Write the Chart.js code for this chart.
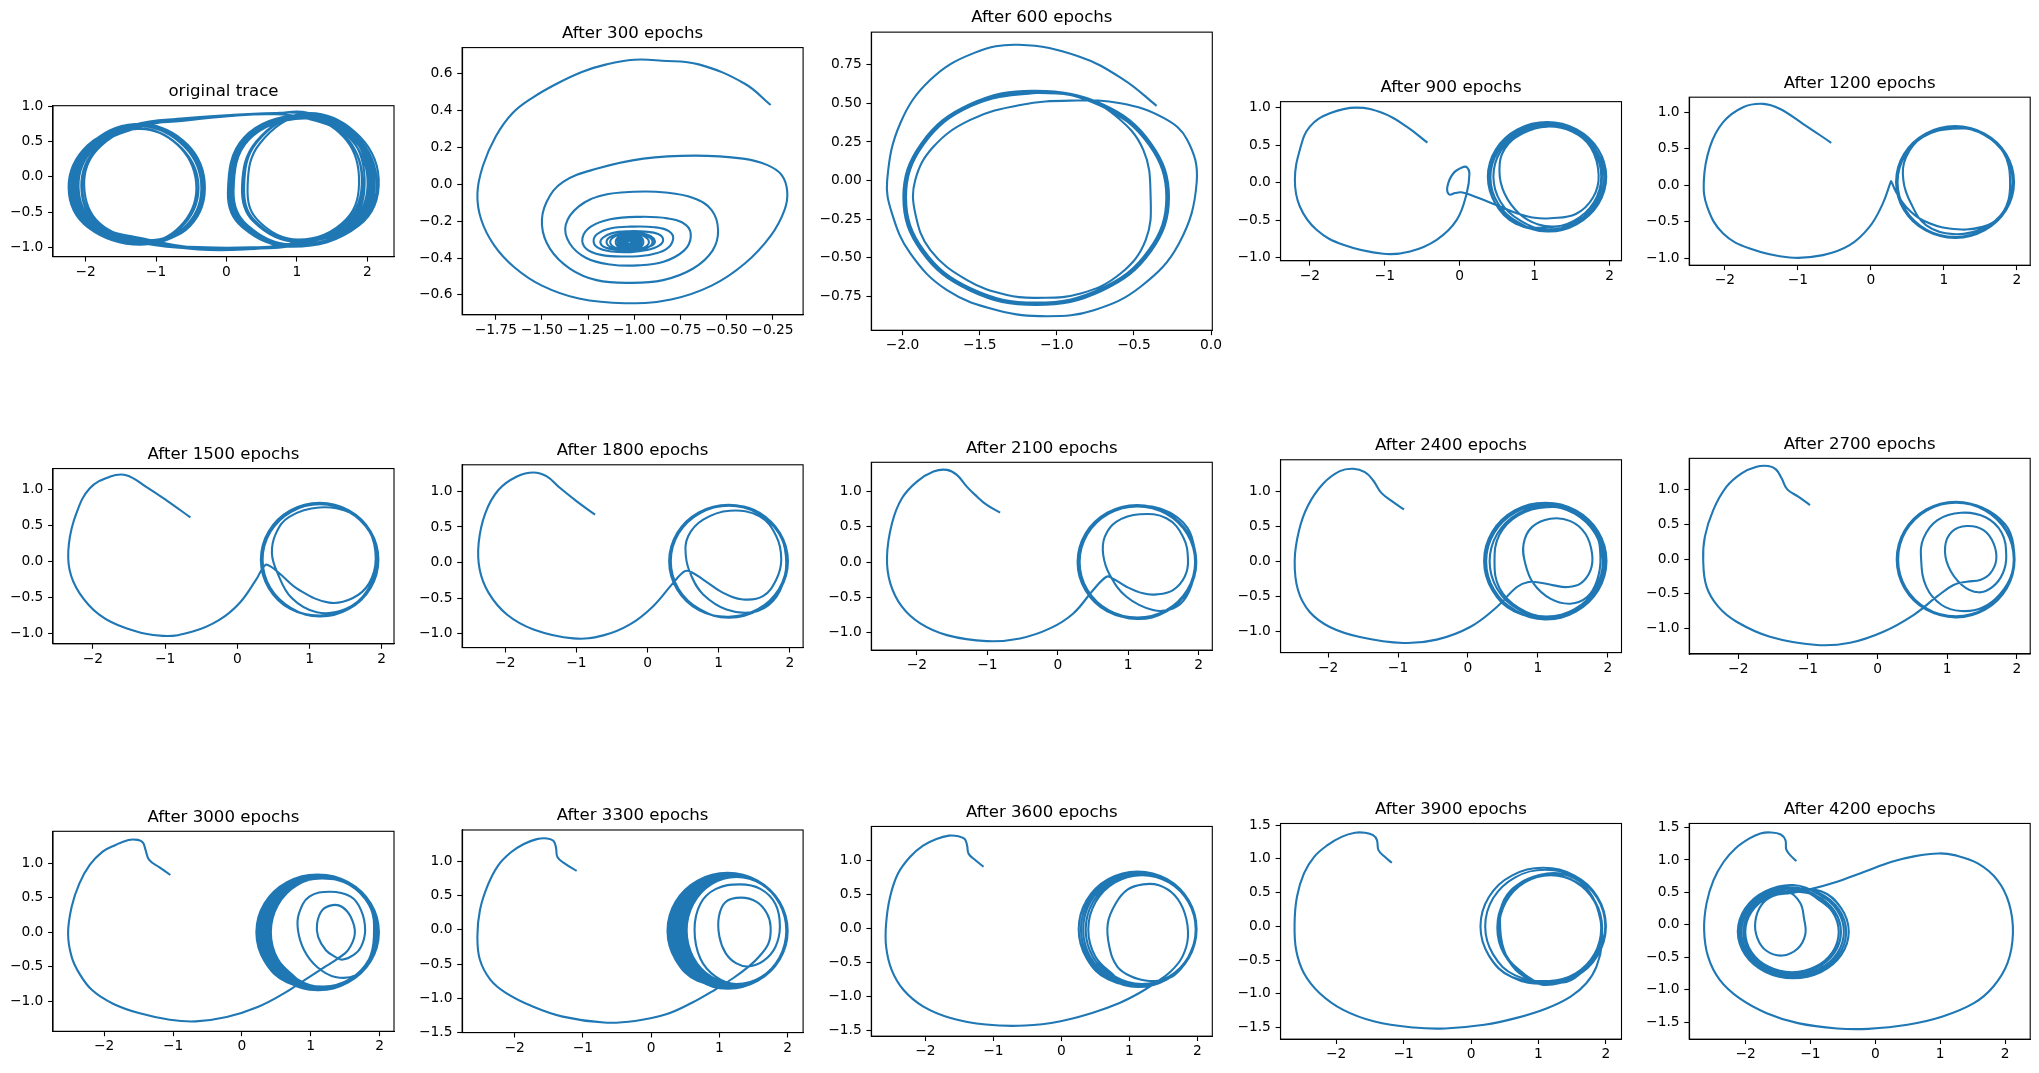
<!DOCTYPE html>
<html><head><meta charset="utf-8">
<script src="https://cdn.jsdelivr.net/npm/chart.js@4.4.1/dist/chart.umd.min.js"></script>
<style>
html,body{margin:0;padding:0;background:#fff;overflow:hidden;}
#fig{position:relative;width:2039px;height:1073px;overflow:hidden;background:#fff;}
canvas{position:absolute;}
</style></head><body><div id="fig"></div>
<script>
// ---------------- DATA ----------------
const panelTitles = ['original trace','After 300 epochs','After 600 epochs','After 900 epochs','After 1200 epochs',
 'After 1500 epochs','After 1800 epochs','After 2100 epochs','After 2400 epochs','After 2700 epochs',
 'After 3000 epochs','After 3300 epochs','After 3600 epochs','After 3900 epochs','After 4200 epochs'];

const trace0 = [[1.05,0.905],[1.78,0.64],[2.13,-0.03],[1.87,-0.68],[0.95,-0.98],[0.26,-0.70],[0.06,-0.22],[0.28,0.55],
[1.08,0.86],[1.72,0.60],[1.96,-0.02],[1.76,-0.64],[0.98,-0.93],[0.30,-1.01],[-0.35,-1.02],
[-1.15,-0.95],[-1.93,-0.72],[-2.23,-0.15],[-1.96,0.44],[-1.30,0.75],[-0.62,0.52],[-0.31,-0.07],[-0.52,-0.70],
[-1.13,-0.91],[-1.85,-0.68],[-2.10,-0.14],[-1.88,0.41],[-1.28,0.71],[-0.70,0.80],[0.05,0.865],[0.60,0.895],
[1.06,0.90],[1.76,0.63],[2.07,-0.02],[1.83,-0.67],[0.96,-0.96],[0.29,-0.68],[0.10,-0.20],[0.32,0.53],
[1.10,0.83],[1.66,0.57],[1.88,0.00],[1.70,-0.60],[1.02,-0.89],[0.43,-0.60],[0.30,-0.12],[0.47,0.47],
[1.09,0.87],[1.70,0.60],[2.00,-0.01],[1.78,-0.65],[1.00,-0.95],[0.20,-1.025],[-0.45,-1.01],
[-1.12,-0.92],[-1.80,-0.66],[-2.02,-0.12],[-1.83,0.39],[-1.27,0.68],[-0.70,0.46],[-0.43,-0.09],[-0.61,-0.65],
[-1.14,-0.93],[-1.90,-0.70],[-2.17,-0.15],[-1.92,0.43],[-1.29,0.73],[-0.64,0.50],[-0.34,-0.07],[-0.55,-0.69],
[-1.15,-0.95],[-1.95,-0.71],[-2.20,-0.14],[-1.95,0.44],[-1.31,0.74],[-0.60,0.83],[0.10,0.88],[0.70,0.905],
[1.15,0.91],[1.80,0.63],[2.10,-0.04],[1.85,-0.70],[0.94,-0.99],[0.24,-0.70],[0.04,-0.24],[0.26,0.56],
[1.05,0.87],[1.74,0.61],[2.02,-0.03],[1.79,-0.66],[0.97,-0.95],[0.25,-1.03],[-0.40,-1.03],
[-1.10,-0.93],[-1.87,-0.69],[-2.12,-0.15],[-1.90,0.42],[-1.30,0.72],[-0.66,0.49],[-0.36,-0.08],[-0.56,-0.68],
[-1.13,-0.90],[-1.82,-0.67],[-2.05,-0.13],[-1.85,0.40],[-1.26,0.70],[-0.65,0.81],[0.00,0.87],[0.65,0.90],
[1.08,0.90],[1.77,0.64],[2.09,-0.02],[1.84,-0.68],[0.97,-0.97],[0.28,-0.69],[0.08,-0.21],[0.30,0.54],
[1.09,0.85],[1.68,0.58],[1.92,-0.01],[1.72,-0.62],[1.00,-0.91],[0.40,-0.62],[0.25,-0.14],[0.43,0.49],
[1.07,0.88],[1.74,0.62],[2.04,-0.02],[1.81,-0.66],[0.98,-0.96],[0.35,-1.00],[-0.30,-1.00],
[-1.16,-0.94],[-1.91,-0.71],[-2.18,-0.15],[-1.93,0.43],[-1.29,0.74],[-0.63,0.51],[-0.33,-0.07],[-0.54,-0.70],[-1.14,-0.93],
[-1.88,-0.69],[-2.14,-0.15],[-1.90,0.42],[-1.28,0.72],[-0.68,0.79],[0.02,0.86],[0.62,0.89],
[1.10,0.84],[1.68,0.58],[1.93,-0.02],[1.74,-0.63],[1.00,-0.92],[0.38,-0.63],[0.22,-0.15],[0.42,0.50],
[1.10,0.90],[1.82,0.64],[2.16,-0.03],[1.88,-0.69],[0.93,-0.99],[0.22,-0.71],[0.02,-0.23],[0.25,0.56],
[1.07,0.88],[1.75,0.62],[2.05,-0.02],[1.80,-0.67],[0.96,-0.97],[0.28,-1.02],[-0.38,-1.015],
[-1.12,-0.89],[-1.84,-0.66],[-2.06,-0.13],[-1.85,0.40],[-1.27,0.69],[-0.69,0.46],[-0.40,-0.08],[-0.59,-0.66],
[-1.16,-0.96],[-1.96,-0.72],[-2.24,-0.15],[-1.97,0.45],[-1.30,0.74]];

const trace300 = [[-0.26,0.43],[-0.40,0.545],[-0.65,0.65],[-0.85,0.67],[-1.0,0.675],[-1.15,0.65],[-1.28,0.61],[-1.42,0.545],
[-1.55,0.47],[-1.66,0.385],[-1.75,0.26],[-1.82,0.10],[-1.85,-0.05],[-1.83,-0.19],[-1.76,-0.33],[-1.65,-0.45],[-1.50,-0.55],
[-1.30,-0.62],[-1.05,-0.645],[-0.80,-0.625],[-0.58,-0.55],[-0.40,-0.43],[-0.26,-0.28],[-0.185,-0.14],[-0.17,-0.04],[-0.20,0.05],
[-0.28,0.105],[-0.41,0.139],[-0.67,0.155],[-0.95,0.139],[-1.20,0.085],[-1.385,0.013],[-1.475,-0.096],[-1.50,-0.222],
[-1.457,-0.349],[-1.349,-0.457],[-1.204,-0.52],[-1.024,-0.535],[-0.843,-0.52],[-0.68,-0.457],[-0.575,-0.36],[-0.545,-0.25],
[-0.58,-0.14],[-0.68,-0.075],[-0.83,-0.045],[-1.0,-0.041],[-1.17,-0.06],[-1.30,-0.12],[-1.371,-0.22],[-1.35,-0.32],[-1.26,-0.40],
[-1.13,-0.435],[-0.98,-0.44],[-0.84,-0.42],[-0.73,-0.36],[-0.693,-0.285],[-0.72,-0.22],[-0.82,-0.185],[-0.98,-0.177],
[-1.13,-0.19],[-1.235,-0.23],[-1.28,-0.29],[-1.26,-0.35],[-1.18,-0.383],[-1.05,-0.392],[-0.93,-0.385],[-0.83,-0.355],
[-0.789,-0.30],[-0.81,-0.255],[-0.89,-0.233],[-1.02,-0.23],[-1.13,-0.24],[-1.2,-0.27],[-1.22,-0.31],[-1.195,-0.345],
[-1.12,-0.365],[-1.02,-0.368],[-0.93,-0.357],[-0.865,-0.333],[-0.843,-0.30],[-0.87,-0.27],[-0.94,-0.257],[-1.03,-0.255],
[-1.12,-0.265],[-1.17,-0.29],[-1.183,-0.317],[-1.16,-0.342],[-1.10,-0.355],[-1.02,-0.357],[-0.95,-0.348],[-0.90,-0.33],
[-0.888,-0.308],[-0.91,-0.282],[-0.96,-0.266],
[-1.025,-0.263],[-1.113,-0.278],[-1.15,-0.313],[-1.113,-0.348],[-1.025,-0.363],[-0.937,-0.348],[-0.90,-0.313],[-0.937,-0.278],
[-1.025,-0.265],[-1.099,-0.28],[-1.13,-0.313],[-1.099,-0.346],[-1.025,-0.36],[-0.951,-0.346],[-0.92,-0.313],[-0.951,-0.28],
[-1.025,-0.267],[-1.078,-0.28],[-1.10,-0.313],[-1.078,-0.346],[-1.025,-0.359],[-0.972,-0.346],[-0.95,-0.313],[-0.972,-0.28],
[-1.025,-0.271],[-1.07,-0.283],[-1.088,-0.313],[-1.07,-0.343],[-1.025,-0.355],[-0.98,-0.343],[-0.962,-0.313],[-0.98,-0.283],
[-1.025,-0.276],[-1.062,-0.287],[-1.077,-0.313],[-1.062,-0.339],[-1.025,-0.35],[-0.988,-0.339],[-0.973,-0.313],[-0.988,-0.287],
[-1.025,-0.283],[-1.055,-0.292],[-1.067,-0.313],[-1.055,-0.334],[-1.025,-0.343],[-0.995,-0.334],[-0.983,-0.313],[-0.995,-0.292],
[-1.025,-0.29],[-1.048,-0.297],[-1.057,-0.313],[-1.048,-0.329],[-1.025,-0.336],[-1.002,-0.329],[-0.993,-0.313],[-1.002,-0.297],
[-1.025,-0.297],[-1.041,-0.302],[-1.047,-0.313],[-1.041,-0.324],[-1.025,-0.329],[-1.009,-0.324],[-1.003,-0.313],[-1.009,-0.302],
[-1.025,-0.304],[-1.036,-0.313],[-1.025,-0.322],[-1.014,-0.313],[-1.025,-0.307]];

const arc600 = [[-0.353,0.484],[-0.565,0.653],[-0.857,0.804],[-1.247,0.880],[-1.539,0.826],[-1.82,0.653],[-2.015,0.371],
[-2.10,0.003],[-2.069,-0.213],[-1.95,-0.473],[-1.712,-0.711],[-1.387,-0.841],[-1.063,-0.880],[-0.760,-0.841],[-0.457,-0.689],
[-0.208,-0.408],[-0.093,-0.008],[-0.154,0.263],[-0.305,0.404],[-0.587,0.501],[-0.911,0.518],[-1.236,0.49],[-1.561,0.393],
[-1.799,0.22],[-1.918,0.003],[-1.918,-0.213],[-1.82,-0.451],[-1.582,-0.646],[-1.323,-0.743],[-1.128,-0.761],[-0.846,-0.733],
[-0.587,-0.603],[-0.424,-0.386],[-0.392,-0.105],[-0.44,0.2],[-0.62,0.42],[-0.85,0.54]];
const ring600A = [[-1.134,0.577],[-1.561,0.490],[-1.874,0.237],[-1.989,-0.109],[-1.874,-0.455],[-1.561,-0.708],[-1.134,-0.802],[-0.708,-0.708],[-0.394,-0.455],[-0.279,-0.109],[-0.394,0.237],[-0.708,0.490]];
const ring600B = [[-1.134,0.567],[-1.556,0.482],[-1.865,0.232],[-1.978,-0.109],[-1.865,-0.45],[-1.556,-0.70],[-1.134,-0.792],[-0.712,-0.70],[-0.403,-0.45],[-0.29,-0.109],[-0.403,0.232],[-0.712,0.482]];
const ring600C = [[-1.134,0.582],[-1.564,0.494],[-1.879,0.24],[-1.995,-0.109],[-1.879,-0.458],[-1.564,-0.713],[-1.134,-0.807],[-0.704,-0.713],[-0.389,-0.458],[-0.273,-0.109],[-0.389,0.24],[-0.704,0.494]];

const arc900 = [[-0.431,0.533],[-0.708,0.747],[-1.02,0.924],[-1.376,1.0],[-1.733,0.924],[-2.0,0.747],[-2.13,0.45],[-2.2,0.036],
[-2.134,-0.32],[-1.911,-0.631],[-1.554,-0.831],[-1.02,-0.951],[-0.663,-0.92],[-0.307,-0.764],[-0.039,-0.498],[0.094,-0.142],
[0.13,0.12],[0.1,0.2],[0.04,0.205],[-0.084,0.124],[-0.164,-0.053],[-0.14,-0.16],[-0.06,-0.14],[0.02,-0.13],[0.139,-0.164],
[0.54,-0.32],[0.763,-0.409],[1.0,-0.47],[1.209,-0.476],[1.55,-0.42],[1.78,-0.2],[1.855,0.1],[1.75,0.47],[1.5,0.68],[1.164,0.747],
[0.85,0.66],[0.6,0.45],[0.531,0.15],[0.6,-0.15],[0.8,-0.42],[1.05,-0.56],[1.3,-0.585],[1.6,-0.5],[1.82,-0.25],[1.9,0.07],
[1.82,0.43],[1.55,0.7],[1.164,0.79],[0.78,0.7],[0.5,0.44],[0.4,0.08],[0.47,-0.27],[0.75,-0.55]];
const ring900O = [[1.166,-0.654],[1.561,-0.556],[1.850,-0.289],[1.956,0.076],[1.850,0.441],[1.561,0.708],[1.166,0.806],[0.771,0.708],[0.482,0.441],[0.376,0.076],[0.482,-0.289],[0.771,-0.556]];
const ring900M = [[1.17,-0.63],[1.55,-0.536],[1.828,-0.28],[1.93,0.07],[1.828,0.42],[1.55,0.676],[1.17,0.77],[0.79,0.676],[0.512,0.42],[0.41,0.07],[0.512,-0.28],[0.79,-0.536]];
const ring900I = [[1.17,-0.60],[1.53,-0.509],[1.794,-0.26],[1.89,0.08],[1.794,0.42],[1.53,0.669],[1.17,0.76],[0.81,0.669],[0.546,0.42],[0.45,0.08],[0.546,-0.26],[0.81,-0.509]];

const arc1200 = [[-0.543,0.581],[-0.93,0.841],[-1.249,1.046],[-1.476,1.114],[-1.75,1.068],[-2.023,0.863],[-2.205,0.522],
[-2.287,0.066],[-2.241,-0.298],[-2.023,-0.662],[-1.658,-0.867],[-1.112,-0.99],[-0.657,-0.958],[-0.292,-0.822],[-0.019,-0.571],
[0.163,-0.252],[0.268,0.035],[0.277,0.055],[0.29,0.03],[0.345,-0.093],[0.482,-0.298],[0.71,-0.48],[1.074,-0.594],[1.529,-0.571],[1.802,-0.389],
[1.907,0.021],[1.802,0.476],[1.483,0.727],[1.119,0.772],[0.71,0.658],[0.482,0.385],[0.445,0.066],[0.55,-0.252],[0.76,-0.55],
[1.13,-0.67],[1.54,-0.59],[1.83,-0.34],[1.94,0.04],[1.84,0.42],[1.55,0.70],[1.15,0.795],[0.76,0.69],[0.47,0.42],[0.36,0.04],
[0.46,-0.335],[0.755,-0.61]];
const ring1200O = [[1.153,-0.721],[1.557,-0.618],[1.853,-0.339],[1.961,0.044],[1.853,0.427],[1.557,0.706],[1.153,0.809],[0.749,0.706],[0.453,0.427],[0.345,0.044],[0.453,-0.339],[0.749,-0.618]];
const ring1200M = [[1.155,-0.71],[1.55,-0.61],[1.839,-0.335],[1.945,0.04],[1.839,0.415],[1.55,0.69],[1.155,0.79],[0.76,0.69],[0.471,0.415],[0.365,0.04],[0.471,-0.335],[0.76,-0.61]];

const arc1500 = [[-0.65,0.613],[-0.986,0.853],[-1.263,1.037],[-1.539,1.198],[-1.77,1.175],[-2.046,1.014],[-2.23,0.668],
[-2.332,0.253],[-2.323,-0.115],[-2.184,-0.438],[-1.908,-0.737],[-1.539,-0.922],[-1.032,-1.028],[-0.618,-0.968],[-0.249,-0.806],
[0.028,-0.576],[0.258,-0.253],[0.387,-0.046],[0.465,-0.069],[0.581,-0.161],[0.857,-0.392],[1.272,-0.567],[1.594,-0.507],
[1.825,-0.3],[1.917,0.046],[1.825,0.438],[1.594,0.668],[1.134,0.751],[0.719,0.622],[0.535,0.392],[0.479,0.115],[0.558,-0.161],
[0.75,-0.5],[1.1,-0.70],[1.5,-0.655],[1.8,-0.4],[1.93,0.03],[1.83,0.425],[1.55,0.70],[1.14,0.80],[0.74,0.70],[0.45,0.42],
[0.34,0.03],[0.445,-0.36],[0.74,-0.648]];
const ring1500O = [[1.14,-0.76],[1.547,-0.654],[1.845,-0.366],[1.954,0.028],[1.845,0.422],[1.547,0.71],[1.14,0.816],[0.733,0.71],[0.435,0.422],[0.326,0.028],[0.435,-0.366],[0.733,-0.654]];
const ring1500M = [[1.145,-0.745],[1.543,-0.642],[1.833,-0.36],[1.94,0.025],[1.833,0.41],[1.543,0.692],[1.145,0.795],[0.747,0.692],[0.457,0.41],[0.35,0.025],[0.457,-0.36],[0.747,-0.642]];

const arc1800 = [[-0.738,0.673],[-0.995,0.86],[-1.229,1.047],[-1.416,1.21],[-1.603,1.266],[-1.836,1.21],[-2.094,1.023],
[-2.28,0.696],[-2.374,0.275],[-2.36,-0.099],[-2.234,-0.426],[-1.977,-0.73],[-1.603,-0.94],[-1.042,-1.066],[-0.621,-1.024],
[-0.247,-0.87],[0.08,-0.613],[0.361,-0.286],[0.525,-0.122],[0.618,-0.136],[0.782,-0.239],[1.062,-0.426],[1.343,-0.519],
[1.623,-0.473],[1.81,-0.239],[1.88,0.042],[1.81,0.369],[1.576,0.649],[1.156,0.729],[0.782,0.603],[0.571,0.369],[0.539,0.088],
[0.618,-0.192],[0.782,-0.449],[1.109,-0.66],[1.483,-0.697],[1.763,-0.543],[1.93,-0.2],[1.93,0.2],[1.8,0.5],[1.5,0.74],
[1.14,0.8],[0.73,0.7],[0.43,0.41],[0.32,0.02],[0.43,-0.375],[0.73,-0.665]];
const ring1800O = [[1.139,-0.777],[1.557,-0.67],[1.862,-0.38],[1.974,0.018],[1.862,0.416],[1.557,0.706],[1.139,0.813],[0.721,0.706],[0.416,0.416],[0.304,0.018],[0.416,-0.38],[0.721,-0.67]];
const ring1800M = [[1.142,-0.762],[1.55,-0.657],[1.848,-0.372],[1.957,0.018],[1.848,0.408],[1.55,0.693],[1.142,0.798],[0.734,0.693],[0.436,0.408],[0.327,0.018],[0.436,-0.372],[0.734,-0.657]];

const arc2100 = [[-0.819,0.701],[-1.008,0.81],[-1.174,0.953],[-1.292,1.071],[-1.433,1.237],[-1.575,1.308],[-1.764,1.284],
[-2.0,1.142],[-2.213,0.905],[-2.354,0.55],[-2.425,0.076],[-2.378,-0.303],[-2.213,-0.635],[-1.953,-0.872],[-1.575,-1.038],
[-1.008,-1.123],[-0.536,-1.085],[-0.111,-0.943],[0.22,-0.73],[0.503,-0.398],[0.692,-0.209],[0.777,-0.232],[0.975,-0.351],
[1.211,-0.445],[1.4,-0.46],[1.636,-0.398],[1.802,-0.209],[1.849,0.028],[1.778,0.36],[1.542,0.621],[1.164,0.678],[0.834,0.573],
[0.668,0.36],[0.645,0.1],[0.739,-0.185],[0.975,-0.493],[1.353,-0.682],[1.636,-0.659],[1.825,-0.493],[1.94,-0.15],[1.93,0.25],
[1.78,0.56],[1.45,0.76],[1.13,0.795],[0.72,0.69],[0.42,0.4],[0.31,0.0],[0.42,-0.395],[0.72,-0.684]];
const ring2100O = [[1.124,-0.81],[1.546,-0.701],[1.854,-0.405],[1.967,0.0],[1.854,0.405],[1.546,0.701],[1.124,0.81],[0.702,0.701],[0.394,0.405],[0.281,0.0],[0.394,-0.405],[0.702,-0.701]];
const ring2100M = [[1.13,-0.79],[1.54,-0.684],[1.84,-0.395],[1.95,0.0],[1.84,0.395],[1.54,0.684],[1.13,0.79],[0.72,0.684],[0.42,0.395],[0.31,0.0],[0.42,-0.395],[0.72,-0.684]];

const arc2400 = [[-0.915,0.743],[-1.068,0.848],[-1.235,0.976],[-1.355,1.157],[-1.474,1.276],[-1.642,1.324],[-1.833,1.29],
[-2.072,1.11],[-2.287,0.8],[-2.416,0.443],[-2.478,0.014],[-2.43,-0.414],[-2.263,-0.724],[-1.976,-0.938],[-1.546,-1.081],
[-0.925,-1.167],[-0.447,-1.119],[0.031,-0.938],[0.413,-0.652],[0.7,-0.367],[0.867,-0.295],[1.035,-0.305],[1.226,-0.343],
[1.417,-0.367],[1.608,-0.319],[1.752,-0.129],[1.775,0.11],[1.68,0.395],[1.465,0.576],[1.178,0.61],[0.915,0.49],[0.796,0.252],
[0.82,-0.033],[0.939,-0.319],[1.178,-0.533],[1.465,-0.605],[1.704,-0.51],[1.847,-0.271],[1.895,0.062],[1.82,0.42],[1.55,0.7],
[1.13,0.776],[0.72,0.66],[0.45,0.38],[0.38,0.0],[0.45,-0.38],[0.72,-0.66]];
const ring2400O = [[1.106,-0.829],[1.544,-0.717],[1.864,-0.412],[1.981,0.005],[1.864,0.422],[1.544,0.727],[1.106,0.839],[0.668,0.727],[0.348,0.422],[0.231,0.005],[0.348,-0.412],[0.668,-0.717]];
const ring2400M = [[1.11,-0.815],[1.535,-0.706],[1.846,-0.408],[1.96,0.0],[1.846,0.408],[1.535,0.706],[1.11,0.815],[0.685,0.706],[0.374,0.408],[0.26,0.0],[0.374,-0.408],[0.685,-0.706]];
const ring2400I = [[1.12,-0.79],[1.525,-0.684],[1.821,-0.395],[1.93,0.0],[1.821,0.395],[1.525,0.684],[1.12,0.79],[0.715,0.684],[0.419,0.395],[0.31,0.0],[0.419,-0.395],[0.715,-0.684]];

const arc2700 = [[-0.97,0.775],[-1.138,0.895],[-1.296,1.0],[-1.377,1.158],[-1.459,1.287],[-1.569,1.335],[-1.737,1.325],
[-1.952,1.23],[-2.168,1.038],[-2.359,0.703],[-2.479,0.321],[-2.503,-0.014],[-2.455,-0.397],[-2.287,-0.684],[-2.024,-0.9],
[-1.545,-1.115],[-0.874,-1.234],[-0.395,-1.201],[0.084,-1.043],[0.515,-0.804],[0.85,-0.541],[1.09,-0.373],[1.281,-0.325],
[1.473,-0.301],[1.617,-0.206],[1.703,-0.014],[1.665,0.225],[1.521,0.416],[1.281,0.474],[1.066,0.392],[0.97,0.177],[1.018,-0.11],
[1.21,-0.373],[1.449,-0.478],[1.65,-0.4],[1.8,-0.2],[1.847,0.05],[1.78,0.38],[1.55,0.6],[1.2,0.665],[0.86,0.56],[0.66,0.3],
[0.625,0.0],[0.7,-0.4],[0.92,-0.66],[1.2,-0.746],[1.5,-0.7],[1.76,-0.5],[1.93,-0.2],[1.95,0.2],[1.83,0.5],[1.5,0.74],[1.12,0.81],
[0.7,0.70],[0.4,0.4],[0.29,-0.007],[0.4,-0.415],[0.7,-0.713]];
const ring2700O = [[1.121,-0.837],[1.544,-0.726],[1.854,-0.422],[1.967,-0.007],[1.854,0.408],[1.544,0.712],[1.121,0.823],[0.698,0.712],[0.388,0.408],[0.275,-0.007],[0.388,-0.422],[0.698,-0.726]];
const ring2700M = [[1.125,-0.822],[1.54,-0.713],[1.844,-0.415],[1.955,-0.007],[1.844,0.401],[1.54,0.699],[1.125,0.808],[0.71,0.699],[0.406,0.401],[0.295,-0.007],[0.406,-0.415],[0.71,-0.713]];

const arc3000 = [[-1.039,0.83],[-1.197,0.942],[-1.347,1.049],[-1.4,1.194],[-1.437,1.301],[-1.512,1.34],[-1.647,1.34],
[-1.835,1.267],[-2.023,1.17],[-2.21,0.976],[-2.36,0.709],[-2.473,0.369],[-2.525,-0.019],[-2.473,-0.359],[-2.36,-0.602],
[-2.173,-0.845],[-1.872,-1.039],[-1.497,-1.175],[-1.047,-1.272],[-0.672,-1.296],[-0.221,-1.233],[0.229,-1.087],[0.604,-0.893],
[0.904,-0.699],[1.205,-0.505],[1.392,-0.383],[1.542,-0.262],[1.64,-0.019],[1.58,0.223],[1.452,0.369],[1.317,0.393],[1.167,0.32],
[1.092,0.126],[1.107,-0.068],[1.22,-0.262],[1.355,-0.359],[1.467,-0.398],[1.618,-0.335],[1.73,-0.214],[1.79,0.029],[1.73,0.32],
[1.58,0.515],[1.28,0.587],[0.979,0.515],[0.829,0.272],[0.814,0.029],[0.904,-0.262],[1.092,-0.505],[1.355,-0.65],[1.655,-0.626],
[1.842,-0.408],[1.917,-0.068],[1.86,0.38],[1.58,0.68],[1.17,0.78],[0.78,0.69],[0.5,0.4],[0.39,0.0],[0.495,-0.4],[0.78,-0.693]];
const ring3000O = [[1.1,-0.842],[1.545,-0.729],[1.871,-0.422],[1.99,-0.002],[1.871,0.418],[1.545,0.725],[1.1,0.838],[0.655,0.725],[0.329,0.418],[0.21,-0.002],[0.329,-0.422],[0.655,-0.729]];
const ring3000G = [[1.11,-0.836],[1.549,-0.724],[1.87,-0.418],[1.988,-0.001],[1.87,0.416],[1.549,0.722],[1.11,0.834],[0.671,0.722],[0.35,0.416],[0.232,-0.001],[0.35,-0.418],[0.671,-0.724]];
const ring3000D = [[1.12,-0.83],[1.553,-0.719],[1.869,-0.415],[1.985,0.0],[1.869,0.415],[1.553,0.719],[1.12,0.83],[0.687,0.719],[0.371,0.415],[0.255,0.0],[0.371,-0.415],[0.687,-0.719]];
const ring3000H = [[1.13,-0.825],[1.556,-0.714],[1.868,-0.412],[1.982,0.0],[1.868,0.412],[1.556,0.714],[1.13,0.825],[0.703,0.714],[0.392,0.412],[0.277,0.0],[0.392,-0.412],[0.703,-0.714]];
const ring3000B = [[1.14,-0.82],[1.56,-0.71],[1.867,-0.41],[1.98,0.0],[1.867,0.41],[1.56,0.71],[1.14,0.82],[0.72,0.71],[0.413,0.41],[0.30,0.0],[0.413,-0.41],[0.72,-0.71]];
const ring3000J = [[1.148,-0.815],[1.56,-0.705],[1.862,-0.408],[1.972,0.0],[1.862,0.408],[1.56,0.705],[1.148,0.815],[0.735,0.705],[0.434,0.408],[0.322,0.0],[0.434,-0.408],[0.735,-0.705]];
const ring3000E = [[1.155,-0.81],[1.56,-0.701],[1.856,-0.405],[1.965,0.0],[1.856,0.405],[1.56,0.701],[1.155,0.81],[0.75,0.701],[0.454,0.405],[0.345,0.0],[0.454,-0.405],[0.75,-0.701]];
const ring3000K = [[1.162,-0.805],[1.56,-0.697],[1.85,-0.402],[1.958,0.0],[1.85,0.402],[1.56,0.697],[1.162,0.805],[0.765,0.697],[0.474,0.402],[0.367,0.0],[0.474,-0.402],[0.765,-0.697]];
const ring3000C = [[1.17,-0.80],[1.56,-0.693],[1.845,-0.40],[1.95,0.0],[1.845,0.40],[1.56,0.693],[1.17,0.80],[0.78,0.693],[0.495,0.40],[0.39,0.0],[0.495,-0.40],[0.78,-0.693]];
const ring3000F = [[1.185,-0.79],[1.568,-0.684],[1.847,-0.395],[1.95,0.0],[1.847,0.395],[1.568,0.684],[1.185,0.79],[0.802,0.684],[0.523,0.395],[0.42,0.0],[0.523,-0.395],[0.802,-0.684]];

const arc3300 = [[-1.091,0.864],[-1.258,0.966],[-1.371,1.063],[-1.394,1.208],[-1.432,1.305],[-1.523,1.339],[-1.674,1.329],
[-1.864,1.257],[-2.053,1.136],[-2.242,0.942],[-2.394,0.651],[-2.508,0.288],[-2.545,-0.099],[-2.508,-0.438],[-2.356,-0.729],
[-2.129,-0.923],[-1.75,-1.116],[-1.295,-1.271],[-0.689,-1.358],[-0.235,-1.334],[0.22,-1.237],[0.598,-1.068],[0.939,-0.874],
[1.205,-0.705],[1.432,-0.535],[1.583,-0.39],[1.72,-0.196],[1.75,0.046],[1.697,0.24],[1.545,0.409],[1.318,0.472],[1.091,0.409],
[0.992,0.191],[1.0,-0.099],[1.091,-0.341],[1.242,-0.487],[1.43,-0.535],[1.65,-0.45],[1.82,-0.25],[1.886,0.05],[1.82,0.38],
[1.6,0.6],[1.3,0.666],[0.95,0.6],[0.72,0.38],[0.636,0.0],[0.72,-0.42],[0.95,-0.69]];
const ring3300O = [[1.12,-0.86],[1.56,-0.746],[1.882,-0.436],[2.0,-0.012],[1.882,0.412],[1.56,0.722],[1.12,0.836],[0.68,0.722],[0.358,0.412],[0.24,-0.012],[0.358,-0.436],[0.68,-0.746]];
const ring3300G = [[1.132,-0.852],[1.565,-0.74],[1.882,-0.432],[1.998,-0.011],[1.882,0.41],[1.565,0.718],[1.132,0.83],[0.70,0.718],[0.384,0.41],[0.268,-0.011],[0.384,-0.432],[0.70,-0.74]];
const ring3300D = [[1.145,-0.845],[1.57,-0.733],[1.881,-0.428],[1.995,-0.01],[1.881,0.408],[1.57,0.713],[1.145,0.825],[0.72,0.713],[0.409,0.408],[0.295,-0.01],[0.409,-0.428],[0.72,-0.733]];
const ring3300H = [[1.158,-0.838],[1.575,-0.726],[1.88,-0.424],[1.992,-0.01],[1.88,0.404],[1.575,0.706],[1.158,0.818],[0.74,0.706],[0.434,0.404],[0.322,-0.01],[0.434,-0.424],[0.74,-0.726]];
const ring3300B = [[1.17,-0.83],[1.58,-0.72],[1.88,-0.42],[1.99,-0.01],[1.88,0.40],[1.58,0.70],[1.17,0.81],[0.76,0.70],[0.46,0.40],[0.35,-0.01],[0.46,-0.42],[0.76,-0.72]];
const ring3300J = [[1.182,-0.828],[1.586,-0.718],[1.882,-0.419],[1.99,-0.01],[1.882,0.399],[1.586,0.698],[1.182,0.808],[0.778,0.698],[0.484,0.399],[0.375,-0.01],[0.484,-0.419],[0.778,-0.718]];
const ring3300E = [[1.195,-0.825],[1.593,-0.716],[1.883,-0.418],[1.99,-0.01],[1.883,0.398],[1.593,0.696],[1.195,0.805],[0.797,0.696],[0.507,0.398],[0.40,-0.01],[0.507,-0.418],[0.797,-0.716]];
const ring3300K = [[1.208,-0.818],[1.596,-0.71],[1.88,-0.414],[1.985,-0.01],[1.88,0.394],[1.596,0.69],[1.208,0.798],[0.818,0.69],[0.534,0.394],[0.43,-0.01],[0.534,-0.414],[0.818,-0.71]];
const ring3300C = [[1.22,-0.81],[1.60,-0.703],[1.878,-0.41],[1.98,-0.01],[1.878,0.39],[1.60,0.683],[1.22,0.79],[0.84,0.683],[0.562,0.39],[0.46,-0.01],[0.562,-0.41],[0.84,-0.703]];
const ring3300L = [[1.235,-0.802],[1.608,-0.696],[1.88,-0.406],[1.98,-0.01],[1.88,0.386],[1.608,0.676],[1.235,0.782],[0.862,0.676],[0.59,0.386],[0.49,-0.01],[0.59,-0.406],[0.862,-0.696]];
const ring3300F = [[1.25,-0.795],[1.615,-0.69],[1.882,-0.403],[1.98,-0.01],[1.882,0.383],[1.615,0.67],[1.25,0.775],[0.885,0.67],[0.618,0.383],[0.52,-0.01],[0.618,-0.403],[0.885,-0.69]];

const arc3600 = [[-1.145,0.903],[-1.26,0.995],[-1.364,1.093],[-1.387,1.214],[-1.422,1.312],[-1.514,1.351],[-1.653,1.361],
[-1.838,1.312],[-2.035,1.214],[-2.231,1.044],[-2.405,0.8],[-2.52,0.459],[-2.578,0.069],[-2.578,-0.272],[-2.497,-0.613],
[-2.324,-0.905],[-2.035,-1.149],[-1.63,-1.32],[-1.11,-1.417],[-0.532,-1.432],[-0.012,-1.368],[0.451,-1.247],[0.855,-1.1],
[1.145,-0.954],[1.376,-0.808],[1.607,-0.637],[1.78,-0.418],[1.861,-0.126],[1.815,0.215],[1.665,0.483],[1.434,0.63],[1.202,0.644],
[0.971,0.566],[0.798,0.362],[0.682,0.069],[0.705,-0.272],[0.821,-0.564],[1.029,-0.711],[1.26,-0.774],[1.434,-0.769],[1.665,-0.686],
[1.869,-0.42],[1.975,-0.02],[1.869,0.38],[1.58,0.673],[1.185,0.78],[0.79,0.673],[0.501,0.38],[0.395,-0.02],[0.501,-0.42],[0.79,-0.713]];
const ring3600O = [[1.121,-0.866],[1.555,-0.752],[1.872,-0.441],[1.988,-0.016],[1.872,0.409],[1.555,0.72],[1.121,0.834],[0.687,0.72],[0.37,0.409],[0.254,-0.016],[0.37,-0.441],[0.687,-0.752]];
const ring3600B = [[1.15,-0.85],[1.565,-0.739],[1.869,-0.435],[1.98,-0.02],[1.869,0.395],[1.565,0.699],[1.15,0.81],[0.735,0.699],[0.431,0.395],[0.32,-0.02],[0.431,-0.435],[0.735,-0.739]];
const ring3600C = [[1.185,-0.82],[1.58,-0.713],[1.869,-0.42],[1.975,-0.02],[1.869,0.38],[1.58,0.673],[1.185,0.78],[0.79,0.673],[0.501,0.38],[0.395,-0.02],[0.501,-0.42],[0.79,-0.713]];
const ring3600D = [[1.135,-0.858],[1.559,-0.745],[1.869,-0.438],[1.983,-0.018],[1.869,0.402],[1.559,0.709],[1.135,0.822],[0.711,0.709],[0.401,0.402],[0.287,-0.018],[0.401,-0.438],[0.711,-0.745]];
const ring3600E = [[1.167,-0.835],[1.572,-0.726],[1.868,-0.428],[1.977,-0.02],[1.868,0.388],[1.572,0.686],[1.167,0.795],[0.762,0.686],[0.466,0.388],[0.357,-0.02],[0.466,-0.428],[0.762,-0.726]];

const arc3900 = [[-1.174,0.943],[-1.279,1.031],[-1.372,1.13],[-1.395,1.278],[-1.453,1.352],[-1.57,1.387],[-1.721,1.387],
[-1.919,1.327],[-2.128,1.204],[-2.326,1.031],[-2.477,0.785],[-2.581,0.439],[-2.616,0.045],[-2.593,-0.35],[-2.477,-0.695],
[-2.244,-0.991],[-1.895,-1.238],[-1.43,-1.411],[-0.849,-1.5],[-0.384,-1.514],[0.198,-1.46],[0.663,-1.361],[1.128,-1.213],
[1.477,-1.041],[1.709,-0.843],[1.86,-0.597],[1.942,-0.251],[1.919,0.094],[1.802,0.439],[1.593,0.676],[1.302,0.785],[1.012,0.76],
[0.721,0.637],[0.488,0.39],[0.43,0.045],[0.488,-0.35],[0.663,-0.646],[0.953,-0.819],[1.244,-0.843],[1.535,-0.769],
[1.842,-0.425],[1.945,-0.03],[1.842,0.365],[1.563,0.654],[1.18,0.76],[0.797,0.654],[0.518,0.365],[0.415,-0.03],[0.518,-0.425],[0.797,-0.714]];
const ring3900O1 = [[1.07,-0.868],[1.535,-0.752],[1.875,-0.434],[2.0,0.0],[1.875,0.434],[1.535,0.752],[1.07,0.868],[0.605,0.752],[0.265,0.434],[0.14,0.0],[0.265,-0.434],[0.605,-0.752]];
const ring3900O2 = [[1.1,-0.85],[1.545,-0.727],[1.871,-0.42],[1.99,0.0],[1.871,0.42],[1.545,0.727],[1.1,0.84],[0.655,0.727],[0.329,0.42],[0.21,0.0],[0.329,-0.42],[0.655,-0.727]];
const ring3900I1 = [[1.18,-0.82],[1.563,-0.714],[1.842,-0.425],[1.945,-0.03],[1.842,0.365],[1.563,0.654],[1.18,0.76],[0.797,0.654],[0.518,0.365],[0.415,-0.03],[0.518,-0.425],[0.797,-0.714]];
const ring3900I2 = [[1.16,-0.81],[1.545,-0.701],[1.83,-0.41],[1.93,-0.02],[1.83,0.37],[1.545,0.66],[1.16,0.77],[0.775,0.66],[0.49,0.37],[0.39,-0.02],[0.49,-0.41],[0.775,-0.701]];

const arc4200 = [[-1.217,0.982],[-1.313,1.074],[-1.373,1.162],[-1.386,1.305],[-1.458,1.392],[-1.614,1.423],[-1.771,1.408],
[-1.94,1.331],[-2.157,1.177],[-2.337,0.972],[-2.494,0.69],[-2.602,0.331],[-2.639,-0.079],[-2.578,-0.49],[-2.398,-0.849],
[-2.096,-1.131],[-1.675,-1.362],[-1.193,-1.515],[-0.59,-1.597],[-0.108,-1.603],[0.494,-1.541],[1.036,-1.413],[1.518,-1.208],
[1.819,-0.951],[2.036,-0.592],[2.12,-0.131],[2.06,0.331],[1.88,0.69],[1.578,0.946],[1.217,1.074],[0.976,1.1],[0.614,1.059],
[0.253,0.972],[-0.169,0.818],[-0.59,0.664],[-1.012,0.546],[-1.3,0.49],[-1.578,0.444],[-1.76,0.3],[-1.85,0.05],[-1.82,-0.2],
[-1.68,-0.4],[-1.434,-0.474],[-1.2,-0.37],[-1.08,-0.15],[-1.1,0.1],[-1.16,0.34],[-1.35,0.51],
[-1.655,0.444],[-1.93,0.21],[-2.03,-0.11],[-1.93,-0.43],[-1.655,-0.664],[-1.28,-0.75],[-0.905,-0.664],[-0.63,-0.43],
[-0.53,-0.11],[-0.63,0.21],[-0.905,0.444]];
const ring4200O = [[-1.265,0.613],[-1.693,0.517],[-2.005,0.254],[-2.12,-0.105],[-2.005,-0.464],[-1.693,-0.727],[-1.265,-0.823],[-0.837,-0.727],[-0.525,-0.464],[-0.41,-0.105],[-0.525,0.254],[-0.837,0.517]];
const ring4200M = [[-1.27,0.58],[-1.68,0.488],[-1.98,0.235],[-2.09,-0.11],[-1.98,-0.455],[-1.68,-0.708],[-1.27,-0.80],[-0.86,-0.708],[-0.56,-0.455],[-0.45,-0.11],[-0.56,0.235],[-0.86,0.488]];
const ring4200N = [[-1.275,0.562],[-1.67,0.472],[-1.959,0.227],[-2.065,-0.108],[-1.959,-0.443],[-1.67,-0.688],[-1.275,-0.778],[-0.88,-0.688],[-0.591,-0.443],[-0.485,-0.108],[-0.591,0.227],[-0.88,0.472]];
const ring4200I = [[-1.28,0.53],[-1.655,0.444],[-1.93,0.21],[-2.03,-0.11],[-1.93,-0.43],[-1.655,-0.664],[-1.28,-0.75],[-0.905,-0.664],[-0.63,-0.43],[-0.53,-0.11],[-0.63,0.21],[-0.905,0.444]];
const ring4200J = [[-1.285,0.51],[-1.645,0.427],[-1.909,0.2],[-2.005,-0.11],[-1.909,-0.42],[-1.645,-0.647],[-1.285,-0.73],[-0.925,-0.647],[-0.661,-0.42],[-0.565,-0.11],[-0.661,0.2],[-0.925,0.427]];

// composed traces (measured loops repeated in the order they are traversed)
const trace600 = [...arc600, ...ring600B, ...ring600A, ...ring600C, ...ring600A, ...ring600B, ...ring600C];
const trace900 = [...arc900, ...ring900I, ...ring900M, ...ring900O, ...ring900M, ...ring900O, ...ring900M, ...ring900O];
const trace1200 = [...arc1200, ...ring1200M, ...ring1200O, ...ring1200M, ...ring1200O];
const trace1500 = [...arc1500, ...ring1500M, ...ring1500O, ...ring1500M, ...ring1500O];
const trace1800 = [...arc1800, ...ring1800M, ...ring1800O, ...ring1800M, ...ring1800O];
const trace2100 = [...arc2100, ...ring2100M, ...ring2100O, ...ring2100M, ...ring2100O];
const trace2400 = [...arc2400, ...ring2400I, ...ring2400M, ...ring2400O, ...ring2400I, ...ring2400M, ...ring2400O];
const trace2700 = [...arc2700, ...ring2700M, ...ring2700O, ...ring2700M, ...ring2700O];
const trace3000 = [...arc3000, ...ring3000F, ...ring3000C, ...ring3000K, ...ring3000E, ...ring3000J, ...ring3000B, ...ring3000H, ...ring3000D, ...ring3000G, ...ring3000O, ...ring3000E, ...ring3000B, ...ring3000D, ...ring3000O, ...ring3000C, ...ring3000F];
const trace3300 = [...arc3300, ...ring3300F, ...ring3300L, ...ring3300C, ...ring3300K, ...ring3300E, ...ring3300J, ...ring3300B, ...ring3300H, ...ring3300D, ...ring3300G, ...ring3300O, ...ring3300C, ...ring3300E, ...ring3300B, ...ring3300D, ...ring3300O];
const trace3600 = [...arc3600, ...ring3600C, ...ring3600E, ...ring3600B, ...ring3600D, ...ring3600O, ...ring3600E, ...ring3600B, ...ring3600D, ...ring3600O, ...ring3600C];
const trace3900 = [...arc3900, ...ring3900O1, ...ring3900I2, ...ring3900O2, ...ring3900I1, ...ring3900O1, ...ring3900O2, ...ring3900I2];
const trace4200 = [...arc4200, ...ring4200J, ...ring4200M, ...ring4200N, ...ring4200O, ...ring4200I, ...ring4200M, ...ring4200N, ...ring4200O, ...ring4200J];

// axis ranges [min, max]
const xRanges = [[-2.462,2.377],[-1.933,-0.084],[-2.203,0.008],[-2.392,2.160],[-2.488,2.182],
 [-2.553,2.170],[-2.607,2.187],[-2.648,2.194],[-2.681,2.196],[-2.704,2.191],
 [-2.744,2.209],[-2.769,2.226],[-2.796,2.219],[-2.825,2.231],[-2.869,2.386]];
const yRanges = [[-1.133,1.01],[-0.708,0.741],[-0.971,0.962],[-1.044,1.080],[-1.096,1.205],
 [-1.138,1.290],[-1.196,1.374],[-1.251,1.416],[-1.305,1.453],[-1.364,1.445],
 [-1.440,1.465],[-1.505,1.463],[-1.588,1.496],[-1.672,1.525],[-1.762,1.562]];

// tick values and labels
const xTicksInt = [-2,-1,0,1,2], xLabelsInt = ['\u22122','\u22121','0','1','2'];
const xTicks300 = [-1.75,-1.5,-1.25,-1,-0.75,-0.5,-0.25], xLabels300 = ['\u22121.75','\u22121.50','\u22121.25','\u22121.00','\u22120.75','\u22120.50','\u22120.25'];
const yTicks300 = [-0.6,-0.4,-0.2,0,0.2,0.4,0.6], yLabels300 = ['\u22120.6','\u22120.4','\u22120.2','0.0','0.2','0.4','0.6'];
const xTicks600 = [-2,-1.5,-1,-0.5,0], xLabels600 = ['\u22122.0','\u22121.5','\u22121.0','\u22120.5','0.0'];
const yTicks600 = [-0.75,-0.5,-0.25,0,0.25,0.5,0.75], yLabels600 = ['\u22120.75','\u22120.50','\u22120.25','0.00','0.25','0.50','0.75'];
const yTicksA = [-1,-0.5,0,0.5,1], yLabelsA = ['\u22121.0','\u22120.5','0.0','0.5','1.0'];
const yTicksB = [-1.5,-1,-0.5,0,0.5,1], yLabelsB = ['\u22121.5','\u22121.0','\u22120.5','0.0','0.5','1.0'];
const yTicksC = [-1.5,-1,-0.5,0,0.5,1,1.5], yLabelsC = ['\u22121.5','\u22121.0','\u22120.5','0.0','0.5','1.0','1.5'];

const traces = [trace0,trace300,trace600,trace900,trace1200,trace1500,trace1800,trace2100,trace2400,trace2700,
 trace3000,trace3300,trace3600,trace3900,trace4200];
const xTickSets = [xTicksInt,xTicks300,xTicks600,xTicksInt,xTicksInt,xTicksInt,xTicksInt,xTicksInt,xTicksInt,xTicksInt,xTicksInt,xTicksInt,xTicksInt,xTicksInt,xTicksInt];
const xLabelSets = [xLabelsInt,xLabels300,xLabels600,xLabelsInt,xLabelsInt,xLabelsInt,xLabelsInt,xLabelsInt,xLabelsInt,xLabelsInt,xLabelsInt,xLabelsInt,xLabelsInt,xLabelsInt,xLabelsInt];
const yTickSets = [yTicksA,yTicks300,yTicks600,yTicksA,yTicksA,yTicksA,yTicksA,yTicksA,yTicksA,yTicksA,yTicksA,yTicksB,yTicksB,yTicksC,yTicksC];
const yLabelSets = [yLabelsA,yLabels300,yLabels600,yLabelsA,yLabelsA,yLabelsA,yLabelsA,yLabelsA,yLabelsA,yLabelsA,yLabelsA,yLabelsB,yLabelsB,yLabelsC,yLabelsC];

// ---------------- LAYOUT / STYLE ----------------
const colLeft = [53.0, 462.1, 871.3, 1280.5, 1689.2];
const rowMid = [181.2, 556.2, 931.3];
const boxW = 341;
const yW = 60, xH = 30, titleSize = 16.6, tickSize = 13.8, titleGap = 4;
const titleBlock = titleSize * 1.2 + titleGap;
const FONT = 'DejaVu Sans';
const LINE = '#1f77b4';

const framePlugin = {
  id: 'frame',
  afterDraw(chart) {
    const {ctx, chartArea: a} = chart;
    ctx.save();
    ctx.strokeStyle = '#000';
    ctx.lineWidth = 1.1;
    ctx.strokeRect(a.left, a.top, a.right - a.left, a.bottom - a.top);
    ctx.restore();
  }
};

const fig = document.getElementById('fig');
traces.forEach((pts, i) => {
  const col = i % 5, row = Math.floor(i / 5);
  const xr = xRanges[i], yr = yRanges[i];
  const boxL = colLeft[col];
  const boxH = boxW * (yr[1] - yr[0]) / (xr[1] - xr[0]);
  const boxT = rowMid[row] - boxH / 2;
  const rawL = boxL - yW;
  const cl = Math.floor(rawL);
  const padL = rawL - cl;
  const ct = Math.floor(boxT - titleBlock - 4);
  const padT = boxT - titleBlock - ct;
  const cw = Math.ceil(padL + yW + boxW + 30);
  const padR = cw - (padL + yW + boxW);
  const ch = Math.ceil(padT + titleBlock + boxH + xH + 4);
  const padB = ch - (padT + titleBlock + boxH + xH);
  const cv = document.createElement('canvas');
  cv.width = cw; cv.height = ch;
  cv.style.left = cl + 'px'; cv.style.top = ct + 'px';
  cv.style.width = cw + 'px'; cv.style.height = ch + 'px';
  fig.appendChild(cv);

  const xt = xTickSets[i], xl = xLabelSets[i], yt = yTickSets[i], yl = yLabelSets[i];
  const gridOpts = {display: true, drawOnChartArea: false, drawTicks: true, tickLength: 4.9, tickWidth: 1.1, tickColor: '#000', color: '#000'};
  const borderOpts = {display: true, color: '#000', width: 1.1};

  new Chart(cv, {
    type: 'scatter',
    data: {datasets: [{
      data: pts.map(p => ({x: p[0], y: p[1]})),
      showLine: true, borderColor: LINE, backgroundColor: LINE, borderWidth: 2.1,
      pointRadius: 0, pointHoverRadius: 0, tension: 0.4, fill: false
    }]},
    options: {
      responsive: false, animation: false, devicePixelRatio: 1, events: [],
      layout: {padding: {left: padL, top: padT, right: padR, bottom: padB}},
      plugins: {
        legend: {display: false}, tooltip: {enabled: false},
        title: {display: true, text: panelTitles[i], fullSize: false, color: '#000',
          font: {family: FONT, size: titleSize, weight: 'normal'}, padding: {top: 0, bottom: titleGap}}
      },
      scales: {
        x: {
          type: 'linear', position: 'bottom', min: xr[0], max: xr[1],
          afterBuildTicks: ax => { ax.ticks = xt.map(v => ({value: v})); },
          afterFit: ax => { ax.height = xH; ax.paddingLeft = 0; ax.paddingRight = 0; ax.paddingTop = 0; ax.paddingBottom = 0; },
          ticks: {autoSkip: false, maxRotation: 0, minRotation: 0, padding: 2.3, color: '#000',
            font: {family: FONT, size: tickSize}, callback: (v, k) => xl[k]},
          grid: gridOpts, border: borderOpts
        },
        y: {
          type: 'linear', position: 'left', min: yr[0], max: yr[1],
          afterBuildTicks: ax => { ax.ticks = yt.map(v => ({value: v})); },
          afterFit: ax => { ax.width = yW; ax.paddingLeft = 0; ax.paddingRight = 0; ax.paddingTop = 0; ax.paddingBottom = 0; },
          ticks: {autoSkip: false, padding: 4.7, color: '#000',
            font: {family: FONT, size: tickSize}, callback: (v, k) => yl[k]},
          grid: gridOpts, border: borderOpts
        }
      }
    },
    plugins: [framePlugin]
  });
});
</script></body></html>
